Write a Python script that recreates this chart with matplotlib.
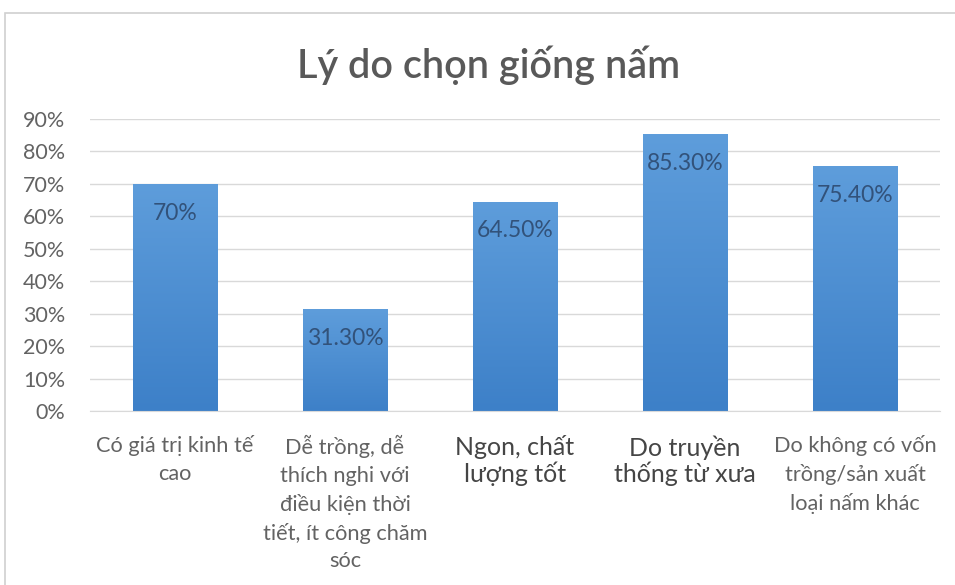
import matplotlib

matplotlib.use("Agg")
import matplotlib.pyplot as plt
import numpy as np
from matplotlib.colors import LinearSegmentedColormap
from matplotlib.patches import Rectangle

plt.rcParams["font.family"] = ["Lato", "Open Sans", "DejaVu Sans"]

categories = [
    "Có giá trị kinh tế\ncao",
    "Dễ trồng, dễ\nthích nghi với\nđiều kiện thời\ntiết, ít công chăm\nsóc",
    "Ngon, chất\nlượng tốt",
    "Do truyền\nthống từ xưa",
    "Do không có vốn\ntrồng/sản xuất\nloại nấm khác",
]
values = [70.0, 31.3, 64.5, 85.3, 75.4]
value_labels = ["70%", "31.30%", "64.50%", "85.30%", "75.40%"]
category_sizes = [15.7, 15.7, 18, 18, 15.7]
y_ticks = [0, 10, 20, 30, 40, 50, 60, 70, 80, 90]

TEXT_GREY = "#636363"
GRID_GREY = "#d9d9d9"
bar_cmap = LinearSegmentedColormap.from_list("bar", ["#3d80c8", "#5e9ddb"])

fig = plt.figure(figsize=(9.55, 5.85), dpi=100)
fig.patches.append(
    Rectangle((5 / 955, -0.05), 1.0, 1 - 13 / 585 + 0.05, transform=fig.transFigure,
              fill=False, edgecolor="#d0d0d0", linewidth=1.2)
)

ax = fig.add_axes([90 / 955, 1 - 411 / 585, 850 / 955, 292 / 585])
x = np.arange(len(values))
bars = ax.bar(x, values, width=0.5, color="none", edgecolor="none", zorder=2)

# vertical gradient inside each bar, clipped to the bar patch
grad = np.linspace(0, 1, 256).reshape(-1, 1)
for rect in bars:
    x0, w, h = rect.get_x(), rect.get_width(), rect.get_height()
    im = ax.imshow(grad, extent=[x0, x0 + w, 0, h], origin="lower", aspect="auto",
                   cmap=bar_cmap, zorder=2)
    im.set_clip_path(rect)

for xi, v, lab in zip(x, values, value_labels):
    ax.text(xi, v - 9.0, lab, ha="center", va="center", fontsize=16.5, color="#32527a", zorder=3)

ax.set_xlim(-0.5, len(values) - 0.5)
ax.set_ylim(0, 90)
ax.set_yticks(y_ticks)
ax.set_yticklabels([f"{t}%" for t in y_ticks], fontsize=15.5, color=TEXT_GREY)
ax.yaxis.grid(True, color=GRID_GREY, linewidth=1)
ax.set_axisbelow(True)
ax.tick_params(axis="y", length=0, pad=18)
ax.tick_params(axis="x", length=0, pad=17.5)
ax.set_xticks(x)
ax.set_xticklabels(categories)
for lab, size in zip(ax.get_xticklabels(), category_sizes):
    lab.set_fontsize(size)
    lab.set_color(TEXT_GREY if size < 16 else "#454545")
    lab.set_linespacing(1.47 if size < 16 else 1.1)
    lab.set_verticalalignment("top")

for side in ("top", "right", "left"):
    ax.spines[side].set_visible(False)
ax.spines["bottom"].set_color(GRID_GREY)

fig.text(489 / 955, 1 - 65 / 585, "Lý do chọn giống nấm", ha="center", va="center",
         fontsize=28.5, fontweight="semibold", color="#595959")

fig.savefig("out.png", dpi=100)
